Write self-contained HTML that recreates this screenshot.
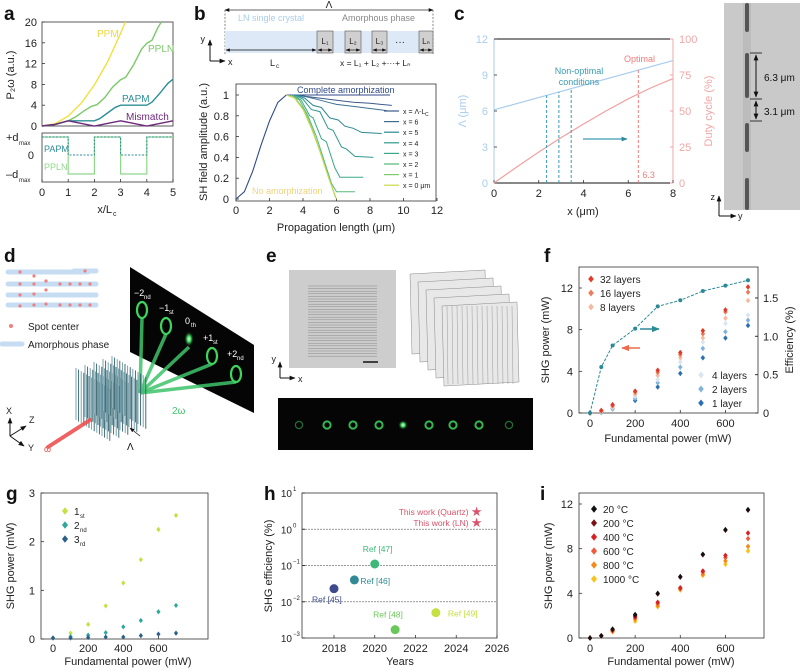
<!DOCTYPE html>
<html><head><meta charset="utf-8"><style>
html,body{margin:0;padding:0;background:#fff;}
svg{display:block;font-family:"Liberation Sans",Arial,sans-serif;}
</style></head><body>
<svg id="fig" width="800" height="672" viewBox="0 0 800 672" xmlns="http://www.w3.org/2000/svg">
<defs>
<marker id="ar" viewBox="0 0 10 10" refX="9" refY="5" markerWidth="6" markerHeight="6" orient="auto-start-reverse"><path d="M0,1 L10,5 L0,9 z" fill="#111"/></marker>
<marker id="art" viewBox="0 0 10 10" refX="9" refY="5" markerWidth="5" markerHeight="5" orient="auto"><path d="M0,1 L10,5 L0,9 z" fill="#2a8a96"/></marker>
<marker id="arr" viewBox="0 0 10 10" refX="9" refY="5" markerWidth="5" markerHeight="5" orient="auto"><path d="M0,1 L10,5 L0,9 z" fill="#ee6a4a"/></marker>
<radialGradient id="spot0"><stop offset="0" stop-color="#d9ffd9"/><stop offset="0.4" stop-color="#3ed45e"/><stop offset="1" stop-color="#000" stop-opacity="0"/></radialGradient>
</defs>
<g id="g-a"></g>
<g id="g-b"></g>
<g id="g-c"></g>
<g id="g-d"></g>
<g id="g-e"></g>
<g id="g-f"></g>
<g id="g-g"></g>
<g id="g-h"></g>
<g id="g-i"></g>
</svg>
<script>
// ---------- DATA ----------
const aPPM = [[0,0],[0.5,0.45],[1,1.9],[1.5,4.4],[2,7.9],[2.5,12.3],[3,17.8],[3.18,20]];
const aPPLN = [[0,0],[0.5,0.3],[1,1],[1.3,1.8],[1.6,2.9],[1.9,3.8],[2.1,4.1],[2.4,5.5],[2.7,7.5],[3,8.9],[3.2,9.4],[3.5,11.8],[3.8,14.8],[4,15.9],[4.2,16.5],[4.4,18.7],[4.55,20]];
const aPAPM = [[0,0],[0.5,0.3],[1,1],[2,1],[2.2,1.4],[2.5,2.5],[2.8,3.6],[3,4],[4,4],[4.2,4.6],[4.5,6.3],[4.8,8.2],[5,9]];
const aMis = [[0,0],[0.5,0.3],[1,1],[1.5,0.5],[2,0],[2.5,0.5],[3,1],[3.5,0.5],[4,0],[4.5,0.5],[5,1]];
const aTicksY = [0,4,8,12,16,20];
const aTicksX = [0,1,2,3,4,5];
const aPPLNd = [1,-1,1,-1,1];
const aPAPMd = [1,0,1,0,1];
const bRise = [[0,0],[0.5,0.07],[1,0.27],[1.5,0.52],[2,0.75],[2.5,0.93],[3,1]];
const bComplete = [[3,1],[9.2,1]];
const bSeriesNames = ["x = \u039B-L","x = 6","x = 5","x = 4","x = 3","x = 2","x = 1","x = 0 \u03BCm"];
const bS0 = [[3.3,1],[4,0.99],[5,0.97],[6,0.95],[7,0.93],[8,0.92],[9.3,0.9]];
const bS1 = [[3.7,1],[4.3,0.98],[4.8,0.96],[5.5,0.93],[6,0.91],[7,0.89],[8,0.87],[9,0.85]];
const bS2 = [[3.6,1],[4.1,0.97],[4.6,0.9],[5.1,0.88],[5.6,0.78],[6.1,0.76],[6.5,0.7],[7,0.68],[7.5,0.64],[8.7,0.63]];
const bS3 = [[3.5,1],[4,0.96],[4.5,0.86],[5,0.84],[5.5,0.68],[5.8,0.66],[6.3,0.5],[6.6,0.48],[7.1,0.41],[8.2,0.4]];
const bS4 = [[3.4,1],[3.9,0.95],[4.4,0.8],[4.6,0.78],[5.1,0.58],[5.4,0.55],[5.9,0.3],[6.2,0.21],[7.6,0.21]];
const bS5 = [[3.3,1],[3.8,0.95],[4.3,0.8],[4.8,0.6],[5.3,0.35],[5.7,0.15],[6,0.07],[7.1,0.07]];
const bS6 = [[3.15,1],[3.6,0.96],[4.1,0.85],[4.6,0.65],[5.1,0.42],[5.5,0.22],[5.95,0.01]];
const bS7 = [[3,1],[3.5,0.97],[4,0.86],[4.5,0.68],[5,0.46],[5.5,0.22],[6,0]];
const bTicksX = [0,2,4,6,8,10,12];
const bTicksY = [0,0.2,0.4,0.6,0.8,1];
const cLambda = [[0,6.1],[8,10.2]];
const cDuty = [[0,0],[1,11],[2,21.5],[3,31.5],[4,41],[5,50],[6,58.5],[7,66],[8,72.5]];
const cNonOpt = [2.35,2.9,3.45];
const cOpt = 6.45;
const cTicksX = [0,2,4,6,8];
const cTicksL = [0,3,6,9,12];
const cTicksR = [0,25,50,75,100];
const fX = [0,50,100,200,300,400,500,600,700];
const f32 = [0,0.25,0.8,2.1,4.1,5.8,7.9,9.9,12.1];
const f16 = [0,0.2,0.7,2.0,3.9,5.6,7.6,9.7,11.6];
const f8 = [0,0.15,0.6,1.8,3.6,5.3,7.2,9.1,10.8];
const f4 = [0,0.1,0.5,1.6,3.2,4.9,6.8,8.6,9.4];
const f2 = [0,0.1,0.45,1.4,2.9,4.4,6.2,7.8,8.9];
const f1 = [0,0.05,0.4,1.2,2.5,3.8,5.3,7.2,8.4];
const fEff = [0,0.6,0.88,1.1,1.39,1.47,1.59,1.66,1.73];
const fTicksX = [0,200,400,600];
const fTicksL = [0,4,8,12];
const fTicksR = [0,0.5,1.0,1.5];
const gX = [0,100,200,300,400,500,600,700];
const g1 = [0.02,0.12,0.3,0.68,1.15,1.63,2.25,2.54];
const g2 = [0.02,0.05,0.08,0.13,0.25,0.38,0.56,0.69];
const g3 = [0.02,0.02,0.03,0.04,0.04,0.07,0.1,0.12];
const gTicksX = [0,200,400,600];
const gTicksY = [0,1,2,3];
const hRefs = ["Ref [45]","Ref [46]","Ref [47]","Ref [48]","Ref [49]"];
const hYears = [2018,2019,2020,2021,2023];
const hEff = [0.023,0.04,0.11,0.0017,0.005];
const hStarNames = ["This work (Quartz)","This work (LN)"];
const hStarYears = [2025,2025];
const hStarEff = [3.0,1.5];
const hTicksX = [2018,2020,2022,2024,2026];
const hTicksExp = [1,0,-1,-2,-3];
const iX = [0,50,100,200,300,400,500,600,700];
const i20 = [0,0.2,0.8,2.1,4.0,5.5,7.5,9.7,11.5];
const i200 = [0,0.2,0.75,2.0,3.95,5.45,7.45,9.65,11.45];
const i400 = [0,0.2,0.7,1.9,3.2,4.5,6.0,7.4,9.4];
const i600 = [0,0.2,0.65,1.8,3.1,4.4,5.9,7.2,8.9];
const i800 = [0,0.2,0.6,1.7,2.9,4.4,5.7,6.9,8.2];
const i1000 = [0,0.2,0.55,1.5,2.8,4.3,5.6,6.6,7.8];
const iTicksX = [0,200,400,600];
const iTicksY = [0,4,8,12];

// ---------- HELPERS ----------
const NS = "http://www.w3.org/2000/svg";
function mk(tag, attrs, parent){const e=document.createElementNS(NS,tag);for(const k in attrs)e.setAttribute(k,attrs[k]);parent.appendChild(e);return e;}
function lin(d0,d1,r0,r1){return v=>r0+(v-d0)*(r1-r0)/(d1-d0);}
function txt(p,x,y,s,size,fill,anchor,name){const t=mk('text',{x:x,y:y,'font-size':size,fill:fill||'#222','text-anchor':anchor||'start'},p);t.textContent=s;


return t;}
function poly(p,pts,sx,sy,stroke,w,name,dash){const d=pts.map(q=>sx(q[0]).toFixed(1)+','+sy(q[1]).toFixed(1)).join(' ');const e=mk('polyline',{points:d,fill:'none',stroke:stroke,'stroke-width':w||1.2},p);if(dash)e.setAttribute('stroke-dasharray',dash);


return e;}
function box(p,x0,y0,x1,y1,name){const r=mk('rect',{x:x0,y:y0,width:x1-x0,height:y1-y0,fill:'none',stroke:'#333','stroke-width':0.8},p);

}
function diamond(p,x,y,s,fill,name){const e=mk('path',{d:`M${x},${y-s} L${x+s*0.8},${y} L${x},${y+s} L${x-s*0.8},${y} Z`,fill:fill},p);


return e;}
function label(p,x,y,s,size){const t=mk('text',{x:x,y:y,'font-size':size||19,'font-weight':'bold',fill:'#111'},p);t.textContent=s;

}
function ytitle(p,x,y,s,fill,name,size){const t=mk('text',{x:x,y:y,'font-size':size||11,fill:fill||'#222','text-anchor':'middle',transform:`rotate(-90 ${x} ${y})`},p);t.textContent=s;


return t;}
function tickY(p,sy,vals,xs,fmt,fill,name,anchor,xl){vals.forEach(v=>{mk('line',{x1:xs,x2:xs+(anchor==='start'?-3:3),y1:sy(v),y2:sy(v),stroke:'#333','stroke-width':0.8},p);txt(p,xl,sy(v)+4,fmt?fmt(v):v,11,fill,anchor||'end',name);});}
function tickX(p,sx,vals,ys,yl,name,fill){vals.forEach(v=>{mk('line',{x1:sx(v),x2:sx(v),y1:ys,y2:ys-3,stroke:'#333','stroke-width':0.8},p);txt(p,sx(v),yl,v,11,fill||'#222','middle',name);});}

// ---------- PANEL A ----------
(function(){
const p=document.getElementById('g-a');
label(p,4,20,'a');
const sx=lin(0,5,42,173), sy=lin(0,20,126,22);
box(p,42,22,173,126,'a-top-frame');
tickY(p,sy,aTicksY,42,null,'#222','a-y-tick',undefined,37);
poly(p,aPPM,sx,sy,'#f2e03c',1.4,'ppm-curve');
poly(p,aPPLN,sx,sy,'#7cc96a',1.4,'ppln-curve');
poly(p,aPAPM,sx,sy,'#2e8e98',1.4,'papm-curve');
poly(p,aMis,sx,sy,'#6e2a7c',1.4,'mismatch-curve');
txt(p,97,37,'PPM',10,'#f0d83a','start','ppm-label');
txt(p,148,52,'PPLN',10,'#7cc96a','start','ppln-label');
txt(p,122,102,'PAPM',10,'#2e8e98','start','papm-label');
txt(p,126,120,'Mismatch',10,'#6e2a7c','start','mismatch-label');
ytitle(p,14,75,'P\u2082\u03C9 (a.u.)','#222','a-y-title');
box(p,42,133,173,182,'a-bottom-frame');
const dy=v=>v===1?137:(v===0?155:174);
let pp=[],pa=[];
aPPLNd.forEach((v,i)=>{pp.push([i,v]);pp.push([i+1,v]);});
aPAPMd.forEach((v,i)=>{pa.push([i,v]);pa.push([i+1,v]);});
poly(p,pp,sx,dy,'#8fd88a',1.2,'ppln-domain-wave');
poly(p,pa,sx,dy,'#2e8e98',1,'papm-domain-wave','2,1.5');
txt(p,6,141,'+d',11,'#222','start','plus-dmax');txt(p,19,145,'max',6,'#222','start','plus-dmax-sub');
txt(p,34,159,'0',11,'#222','end','zero-d');
txt(p,6,178,'\u2013d',11,'#222','start','minus-dmax');txt(p,19,182,'max',6,'#222','start','minus-dmax-sub');
txt(p,44,152,'PAPM',9,'#2e8e98','start','papm-domain-label');
txt(p,44,170,'PPLN',9,'#8fd88a','start','ppln-domain-label');
tickX(p,sx,aTicksX,182,196,'a-x-tick');
txt(p,112,213,'x/L',11,'#222','end','a-x-title');txt(p,113,216,'c',7,'#222','start','a-x-title-sub');
})();

// ---------- PANEL B ----------
(function(){
const p=document.getElementById('g-b');
label(p,194,20,'b');
mk('line',{x1:225,y1:10,x2:433,y2:10,stroke:'#333','stroke-width':0.8,'marker-end':'url(#ar)','marker-start':'url(#ar)'},p);
txt(p,329,8,'\u039B',10,'#222','middle','lambda-period-label');
mk('line',{x1:225,y1:10,x2:225,y2:54,stroke:'#555','stroke-width':0.7,'stroke-dasharray':'2,1.5'},p);
mk('line',{x1:433,y1:10,x2:433,y2:54,stroke:'#555','stroke-width':0.7,'stroke-dasharray':'2,1.5'},p);
const band=mk('rect',{x:225,y:31,width:208,height:22,fill:'#dde9f7'},p);


[[317,333,'L\u2081'],[345,361,'L\u2082'],[372,387,'L\u2083'],[419,433,'L\u2099']].forEach((b,i)=>{
 const r=mk('rect',{x:b[0],y:31,width:b[1]-b[0],height:22,fill:'#d0d0d0',stroke:'#555','stroke-width':0.6},p);
 
 
 txt(p,(b[0]+b[1])/2,44,b[2],8,'#222','middle','amorphous-length-label');
 mk('line',{x1:b[0]+1,y1:50,x2:b[1]-1,y2:50,stroke:'#111','stroke-width':0.7,'marker-end':'url(#ar)','marker-start':'url(#ar)'},p);});
txt(p,400,45,'\u00B7\u00B7\u00B7',10,'#222','middle','ellipsis');
mk('line',{x1:226,y1:50,x2:316,y2:50,stroke:'#111','stroke-width':0.7,'marker-end':'url(#ar)','marker-start':'url(#ar)'},p);
txt(p,238,21,'LN single crystal',9,'#a9cdee','start','ln-crystal-label');
txt(p,342,21,'Amorphous phase',9,'#888','start','amorphous-label');
txt(p,270,66,'L',9,'#222','start','lc-label');txt(p,276,68,'c',6,'#222','start','lc-sub');
txt(p,340,66,'x = L\u2081 + L\u2082 +\u00B7\u00B7\u00B7+ L\u2099',8.5,'#222','start','x-sum-label');
mk('line',{x1:210,y1:61,x2:210,y2:40,stroke:'#111','stroke-width':1,'marker-end':'url(#ar)'},p);
mk('line',{x1:210,y1:61,x2:225,y2:61,stroke:'#111','stroke-width':1,'marker-end':'url(#ar)'},p);
txt(p,205,42,'y',9,'#222','end','b-y-axis-icon');txt(p,228,65,'x',9,'#222','start','b-x-axis-icon');
const sx=lin(0,12,236,437), sy=lin(0,1,199,95);
box(p,236,84,436,201,'b-frame');
tickY(p,sy,bTicksY,236,v=>v===0||v===1?String(v):v.toFixed(1),'#222','b-y-tick',undefined,229);
tickX(p,sx,bTicksX,201,214,'b-x-tick');
const cols=['#3d5a8a','#3a6f92','#2f8892','#2f9a90','#3aa888','#58b87a','#80c86a','#c9d94a','#f3d86c'];
poly(p,bComplete,sx,sy,'#2f4a8a',1,'complete-amorphization-line');
const ser=[bS0,bS1,bS2,bS3,bS4,bS5,bS6,bS7];
ser.forEach((s,i)=>{poly(p,s,sx,sy,cols[i],1,'sh-branch-'+i);});
poly(p,bRise,sx,sy,'#2f4a8a',1.1,'sh-rise-curve');
bSeriesNames.forEach((n,i)=>{const y=111+i*10.6;
 const l=mk('line',{x1:384,x2:399,y1:y,y2:y,stroke:cols[i],'stroke-width':1.2},p);
 
 
 txt(p,403,y+3,n,7,'#222','start','b-legend-label');
 if(i===0)txt(p,425,y+5,'C',5,'#222','start','b-legend-sub');});
txt(p,297,93,'Complete amorphization',9,'#2f4a8a','start','complete-amorphization-label');
txt(p,252,194,'No amorphization',9,'#f0d47a','start','no-amorphization-label');
ytitle(p,207,142,'SH field amplitude (a.u.)','#222','b-y-title');
txt(p,336,231,'Propagation length (\u03BCm)',11,'#222','middle','b-x-title');
})();

// ---------- PANEL C ----------
(function(){
const p=document.getElementById('g-c');
label(p,454,20,'c');
const sx=lin(0,8,494,673), sl=lin(0,12,183,39), sr=lin(0,100,183,39);
mk('line',{x1:494,y1:39,x2:673,y2:39,stroke:'#111','stroke-width':1},p);
mk('line',{x1:494,y1:183,x2:673,y2:183,stroke:'#111','stroke-width':1},p);
mk('line',{x1:494,y1:39,x2:494,y2:183,stroke:'#a9cdee','stroke-width':1},p);
mk('line',{x1:673,y1:39,x2:673,y2:183,stroke:'#f2a7a7','stroke-width':1},p);
tickY(p,sl,cTicksL,494,null,'#a9cdee','c-left-tick',undefined,488);
cTicksR.forEach(v=>{mk('line',{x1:673,x2:670,y1:sr(v),y2:sr(v),stroke:'#f2a7a7'},p);txt(p,679,sr(v)+4,v,11,'#f2a7a7','start','c-right-tick');});
tickX(p,sx,cTicksX,183,197,'c-x-tick');
poly(p,cLambda,sx,sl,'#a9cdee',1.2,'lambda-line');
poly(p,cDuty,sx,sr,'#f2a0a0',1.2,'duty-cycle-curve');
const lamAt=x=>cLambda[0][1]+(cLambda[1][1]-cLambda[0][1])*x/8;
cNonOpt.forEach(x=>{const l=mk('line',{x1:sx(x),x2:sx(x),y1:183,y2:sl(lamAt(x)),stroke:'#3a9ab0','stroke-width':1,'stroke-dasharray':'3,2'},p);
 
 });
const lo=mk('line',{x1:sx(cOpt),x2:sx(cOpt),y1:183,y2:sl(lamAt(cOpt)),stroke:'#ee7b7b','stroke-width':1,'stroke-dasharray':'3,2'},p);


txt(p,sx(cOpt)+4,178,'6.3',9,'#ee7b7b','start','optimal-value');
txt(p,624,62,'Optimal',9,'#ee7b7b','start','optimal-label');
txt(p,579,74,'Non-optimal',9,'#3a9ab0','middle','non-optimal-label-1');
txt(p,579,85,'conditions',9,'#3a9ab0','middle','non-optimal-label-2');
mk('line',{x1:583,y1:139,x2:627,y2:139,stroke:'#3a9ab0','stroke-width':1.2,'marker-end':'url(#art)'},p);
ytitle(p,466,111,'\u039B (\u03BCm)','#a9cdee','c-left-title');
ytitle(p,712,111,'Duty cycle (%)','#f2a7a7','c-right-title');
txt(p,583,215,'x (\u03BCm)',11,'#222','middle','c-x-title');
const m=mk('rect',{x:724,y:3,width:76,height:207,fill:'#c9c9c9'},p);


mk('rect',{x:743,y:3,width:8,height:207,fill:'#bcbcbc'},p);
[[3,32],[53,98],[123,152],[178,210]].forEach(s=>{const r=mk('rect',{x:745,y:s[0],width:4,height:s[1]-s[0],rx:2,fill:'#333',opacity:0.75},p);
 
 });
[53,99,121].forEach(y=>mk('line',{x1:750,x2:762,y1:y,y2:y,stroke:'#111','stroke-width':0.8},p));
mk('line',{x1:756,y1:55,x2:756,y2:97,stroke:'#111','stroke-width':1,'marker-end':'url(#ar)','marker-start':'url(#ar)'},p);
mk('line',{x1:756,y1:101,x2:756,y2:119,stroke:'#111','stroke-width':1,'marker-end':'url(#ar)','marker-start':'url(#ar)'},p);
txt(p,764,81,'6.3 \u03BCm',10,'#111','start','dimension-6-3');
txt(p,764,115,'3.1 \u03BCm',10,'#111','start','dimension-3-1');
mk('line',{x1:719,y1:216,x2:719,y2:196,stroke:'#111','stroke-width':1,'marker-end':'url(#ar)'},p);
mk('line',{x1:719,y1:216,x2:736,y2:216,stroke:'#111','stroke-width':1,'marker-end':'url(#ar)'},p);
txt(p,715,200,'z',9,'#222','end','c-z-axis-icon');txt(p,738,219,'y',9,'#222','start','c-y-axis-icon');
})();

// ---------- PANEL D ----------
(function(){
const p=document.getElementById('g-d');
label(p,4,262,'d');
const bars=[[8,88,272],[8,96,284],[8,96,295],[8,96,305],[74,96,271]];
bars.forEach(b=>{const l=mk('line',{x1:b[0],x2:b[1],y1:b[2],y2:b[2],stroke:'#c6dcf2','stroke-width':5,'stroke-linecap':'round'},p);
 
 });
[[20,272],[34,276],[46,281],[60,284],[70,284],[80,284],[90,284],[20,284],[34,284],[20,295],[34,294],[46,290],[20,306],[34,305],[46,304],[60,305],[70,305],[80,305],[90,305],[85,271]].forEach(d=>{
 const c=mk('circle',{cx:d[0],cy:d[1],r:1.6,fill:'#ef8080'},p);
 
 });
mk('circle',{cx:11,cy:326,r:2,fill:'#ef8080'},p);
txt(p,28,330,'Spot center',10,'#222','start','spot-center-legend');
mk('line',{x1:2,x2:22,y1:344,y2:344,stroke:'#c6dcf2','stroke-width':5,'stroke-linecap':'round'},p);
txt(p,28,348,'Amorphous phase',10,'#222','start','amorphous-phase-legend');
const scr=mk('polygon',{points:'130,267 254,345 254,413 130,352',fill:'#050505'},p);


const spots=[[142,310,'\u22122','nd',134,296],[166,326,'\u22121','st',159,311],[189,339,'0','th',185,324],[212,356,'+1','st',203,341],[236,374,'+2','nd',227,357]];
spots.forEach((s,i)=>{
 mk('line',{x1:140,y1:393,x2:s[0],y2:s[1]+8,stroke:'#3ec46a','stroke-width':3.5,opacity:0.85},p);
});
spots.forEach((s,i)=>{
 const e=mk('ellipse',{cx:s[0],cy:s[1],rx:5,ry:8,fill:i===2?'url(#spot0)':'none',stroke:i===2?'none':'#3ed45e','stroke-width':2.2},p);
 
 
 txt(p,s[4],s[5],s[2],9,'#fff','start','order-label');
 txt(p,s[4]+(s[2].length>1?10:6),s[5]+3,s[3],6,'#fff','start','order-label-sub');});
for(let k=0;k<5;k++){for(let j=0;j<14;j++){const x=76+k*9+j*2.6,y=368+k*-3+j*1.6;
 mk('line',{x1:x,y1:y,x2:x,y2:y+52,stroke:j%2?'#2f5f6a':'#6a9aa8','stroke-width':0.9},p);}}
mk('line',{x1:48,y1:447,x2:90,y2:420,stroke:'#ef5050','stroke-width':4,'stroke-linecap':'round',opacity:0.9},p);
txt(p,44,452,'\u03C9',9,'#ef5050','start','omega-label');
txt(p,172,414,'2\u03C9',10,'#3ec46a','start','two-omega-label');
mk('line',{x1:140,y1:436,x2:130,y2:428,stroke:'#111','stroke-width':0.8,'marker-end':'url(#ar)'},p);
txt(p,127,450,'\u039B',10,'#111','start','d-lambda-label');
mk('line',{x1:10,y1:436,x2:10,y2:418,stroke:'#111','stroke-width':1,'marker-end':'url(#ar)'},p);
mk('line',{x1:10,y1:436,x2:26,y2:426,stroke:'#111','stroke-width':1,'marker-end':'url(#ar)'},p);
mk('line',{x1:10,y1:436,x2:24,y2:446,stroke:'#111','stroke-width':1,'marker-end':'url(#ar)'},p);
txt(p,6,414,'X',9,'#222','start','x-axis-icon');txt(p,29,423,'Z',9,'#222','start','z-axis-icon');txt(p,28,451,'Y',9,'#222','start','y-axis-icon');
})();

// ---------- PANEL E ----------
(function(){
const p=document.getElementById('g-e');
label(p,266,262,'e');
const m=mk('rect',{x:289,y:270,width:107,height:98,fill:'#cdcdcd'},p);


for(let y=286;y<358;y+=2.6){mk('line',{x1:308,x2:377,y1:y,y2:y,stroke:'#777','stroke-width':0.4},p);}
mk('line',{x1:363,x2:378,y1:362,y2:362,stroke:'#111','stroke-width':1.5},p);
for(let k=0;k<5;k++){const x=410+k*8,y=270+k*8;
 const r=mk('path',{d:`M${x},${y+4} L${x+75},${y} L${x+77},${y+80} L${x+2},${y+84} Z`,fill:'#e8e8e8',stroke:'#888','stroke-width':0.5},p);
 
 
 if(k===4){for(let j=0;j<14;j++)mk('line',{x1:x+5+j*5,x2:x+6+j*5,y1:y+4,y2:y+82,stroke:'#999','stroke-width':0.5},p);}}
mk('line',{x1:280,y1:378,x2:280,y2:362,stroke:'#111','stroke-width':1,'marker-end':'url(#ar)'},p);
mk('line',{x1:280,y1:378,x2:295,y2:378,stroke:'#111','stroke-width':1,'marker-end':'url(#ar)'},p);
txt(p,276,362,'y',9,'#222','end','e-y-axis-icon');txt(p,298,382,'x',9,'#222','start','e-x-axis-icon');
const strip=mk('rect',{x:278,y:398,width:255,height:52,fill:'#050505'},p);


[299,327,353,379,403,429,453,479,509].forEach((x,i)=>{
 const c=mk('circle',{cx:x,cy:425,r:i===4?5:3.6,fill:i===4?'url(#spot0)':'none',stroke:i===4?'none':'#35b850','stroke-width':i===0||i===8?1.2:2,opacity:i===0||i===8?0.6:1},p);
 
 });
})();

// ---------- PANEL F ----------
(function(){
const p=document.getElementById('g-f');
label(p,544,262,'f');
const sx=lin(0,700,590,748), sy=lin(0,12,413,288), se=lin(0,1,413,336.3);
box(p,579,267,758,413,'f-frame');
tickY(p,sy,fTicksL,579,null,'#222','f-left-tick',undefined,573);
fTicksR.forEach(v=>{mk('line',{x1:758,x2:755,y1:se(v),y2:se(v),stroke:'#333'},p);txt(p,763,se(v)+4,v===0?'0':v.toFixed(1),11,'#222','start','f-right-tick');});
tickX(p,sx,fTicksX,413,427,'f-x-tick');
const ser=[[f1,'#2a6fb0'],[f2,'#7fb3dc'],[f4,'#d8e6f2'],[f8,'#f5b9a0'],[f16,'#ee7a5a'],[f32,'#e03a2a']];
ser.forEach((s,k)=>{s[0].forEach((v,i)=>{diamond(p,sx(fX[i]),sy(v),2.8,s[1],'f-point');});});
const ep=fX.map((x,i)=>[x,fEff[i]]);
poly(p,ep,sx,se,'#2a8a96',1,'efficiency-line','3,1.5');
ep.forEach(q=>{const c=mk('circle',{cx:sx(q[0]),cy:se(q[1]),r:2,fill:'#2a8a96'},p);
 
 });
mk('line',{x1:640,y1:329,x2:659,y2:329,stroke:'#2a8a96','stroke-width':1.6,'marker-end':'url(#art)'},p);
mk('line',{x1:640,y1:348,x2:622,y2:348,stroke:'#ee6a4a','stroke-width':1.6,'marker-end':'url(#arr)'},p);
[['32 layers','#e03a2a',279],['16 layers','#ee7a5a',293],['8 layers','#f5b9a0',307]].forEach(l=>{diamond(p,591,l[2],3.5,l[1],'f-legend-marker');txt(p,600,l[2]+4,l[0],10,'#222','start','f-legend-label');});
[['4 layers','#d8e6f2',375],['2 layers','#7fb3dc',389],['1 layer','#2a6fb0',403]].forEach(l=>{diamond(p,701,l[2],3.5,l[1],'f-legend-marker');txt(p,712,l[2]+4,l[0],10,'#222','start','f-legend-label');});
ytitle(p,549,340,'SHG power (mW)','#222','f-left-title');
ytitle(p,793,340,'Efficiency (%)','#222','f-right-title');
txt(p,668,442,'Fundamental power (mW)',11,'#222','middle','f-x-title');
})();

// ---------- PANEL G ----------
(function(){
const p=document.getElementById('g-g');
label(p,6,500,'g');
const sx=lin(0,700,53,176), sy=lin(0,3,639,493);
box(p,41,493,208,639,'g-frame');
tickY(p,sy,gTicksY,41,null,'#222','g-y-tick',undefined,35);
tickX(p,sx,gTicksX,639,652,'g-x-tick');
[[g1,'#c5e040'],[g2,'#2fa79a'],[g3,'#2a5f8a']].forEach(s=>{s[0].forEach((v,i)=>{diamond(p,sx(gX[i]),sy(v),2.6,s[1],'g-point');});});
[['1','st','#c5e040',511],['2','nd','#2fa79a',525],['3','rd','#2a5f8a',539]].forEach(l=>{diamond(p,65,l[3],3.8,l[2],'g-legend-marker');txt(p,74,l[3]+4,l[0],10,'#222','start','g-legend-label');txt(p,80,l[3]+7,l[1],6,'#222','start','g-legend-sub');});
ytitle(p,14,566,'SHG power (mW)','#222','g-y-title');
txt(p,128,665,'Fundamental power (mW)',11,'#222','middle','g-x-title');
})();

// ---------- PANEL H ----------
(function(){
const p=document.getElementById('g-h');
label(p,264,500,'h');
const sx=lin(2018,2026,334,497), sy=v=>lin(1,-3,493,638)(Math.log10(v));
box(p,302,493,497,638,'h-frame');
[0,-1,-2].forEach(e=>{const l=mk('line',{x1:302,x2:497,y1:sy(Math.pow(10,e)),y2:sy(Math.pow(10,e)),stroke:'#777','stroke-width':0.8,'stroke-dasharray':'2,1'},p);
 
 });
hTicksExp.forEach(e=>{const y=sy(Math.pow(10,e));mk('line',{x1:302,x2:305,y1:y,y2:y,stroke:'#333'},p);txt(p,292,y+4,'10',10,'#222','end','h-y-tick');txt(p,293,y-2,String(e).replace('-','\u2212'),6,'#222','start','h-y-tick-exp');});
tickX(p,sx,hTicksX,638,652,'h-x-tick');
const cols=['#3f4a8c','#2f8a96','#3cb878','#6ac85a','#c5e040'];
const lx=[[-22,14],[6,4],[-12,-12],[-22,-12],[12,4]];
hYears.forEach((y,i)=>{const c=mk('circle',{cx:sx(y),cy:sy(hEff[i]),r:4.5,fill:cols[i]},p);
 
 
 txt(p,sx(y)+lx[i][0],sy(hEff[i])+lx[i][1],hRefs[i],8.5,cols[i],'start','h-ref-label');});
hStarYears.forEach((y,i)=>{const s=mk('text',{x:sx(y),y:sy(hStarEff[i])+4,'font-size':13,fill:'#d9536a','text-anchor':'middle'},p);s.textContent='\u2605';
 
 
 txt(p,sx(y)-8,sy(hStarEff[i])+3,hStarNames[i],8.5,'#d9536a','end','this-work-label');});
ytitle(p,272,566,'SHG efficiency (%)','#222','h-y-title');
txt(p,400,665,'Years',11,'#222','middle','h-x-title');
})();

// ---------- PANEL I ----------
(function(){
const p=document.getElementById('g-i');
label(p,540,500,'i');
const sx=lin(0,700,590,748), sy=lin(0,12,638,504);
box(p,579,493,764,638,'i-frame');
tickY(p,sy,iTicksY,579,null,'#222','i-y-tick',undefined,573);
tickX(p,sx,iTicksX,638,652,'i-x-tick');
const ser=[[i1000,'#f7c21a'],[i800,'#f58a1a'],[i600,'#f05a3a'],[i400,'#d82020'],[i200,'#7a1010'],[i20,'#111']];
ser.forEach(s=>{s[0].forEach((v,i)=>{diamond(p,sx(iX[i]),sy(v),2.8,s[1],'i-point');});});
[['20 \u00B0C','#111'],['200 \u00B0C','#7a1010'],['400 \u00B0C','#d82020'],['600 \u00B0C','#f05a3a'],['800 \u00B0C','#f58a1a'],['1000 \u00B0C','#f7c21a']].forEach((l,k)=>{const y=509+k*14;diamond(p,594,y,3.8,l[1],'i-legend-marker');txt(p,603,y+4,l[0],10,'#222','start','i-legend-label');});
ytitle(p,552,566,'SHG power (mW)','#222','i-y-title');
txt(p,671,665,'Fundamental power (mW)',11,'#222','middle','i-x-title');
})();
</script>
</body></html>
